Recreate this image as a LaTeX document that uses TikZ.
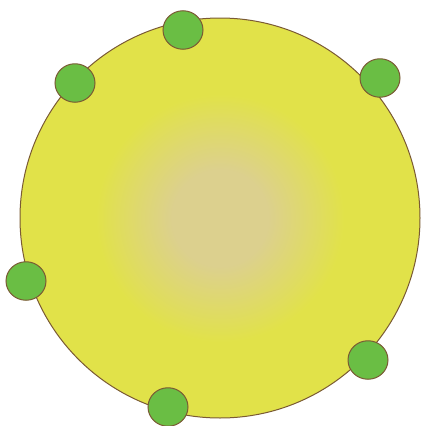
\documentclass[tikz,border=0pt]{standalone}
\usepackage{xcolor}
\usepackage{tikz}
\usetikzlibrary{positioning, calc}
\definecolor{cellyel}{RGB}{225, 226, 73}
\definecolor{celltan}{RGB}{220, 208, 142}
\definecolor{cellrim}{RGB}{122, 90, 52}
\definecolor{budgreen}{RGB}{106, 190, 68}
\pgfdeclareradialshading{cellcore}{\pgfpoint{0bp}{0bp}}{%
  color(0bp)=(celltan); color(6bp)=(celltan); color(15.5bp)=(cellyel); color(50bp)=(cellyel)}
\tikzset{
  cell/.style={circle, draw=cellrim, line width=1pt, shading=cellcore,
               minimum size=400pt, inner sep=0pt},
  bud/.style={ellipse, draw=cellrim, line width=1pt, fill=budgreen,
              minimum width=40pt, minimum height=38.5pt, inner sep=0pt},
}
\usetikzlibrary{shapes.geometric}
\begin{document}
\begin{tikzpicture}[x=1pt, y=-1pt]
  \useasboundingbox (0,0) rectangle (421,426);
  % Big cell
  \node[cell] (body) at (220,218) {};
  % Buds round the rim
  \node[bud] (b1) at (183,30) {};
  \node[bud] (b2) at (75,83) {};
  \node[bud] (b3) at (380,78) {};
  \node[bud] (b4) at (26,281) {};
  \node[bud] (b5) at (368,360) {};
  \node[bud] (b6) at (168,407) {};
\end{tikzpicture}
\end{document}
